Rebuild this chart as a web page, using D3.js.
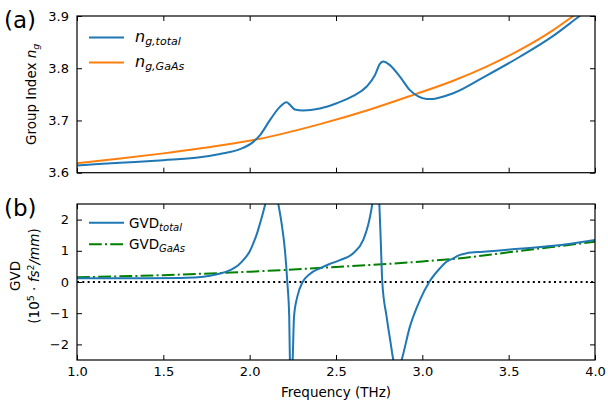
<!DOCTYPE html>
<html>
<head>
<meta charset="utf-8">
<script src="https://cdn.jsdelivr.net/npm/d3@7"></script>
<style>
  body { margin: 0; background: #fff; }
  svg text { font-family: "DejaVu Sans", sans-serif; fill: #000; }
</style>
</head>
<body>
<div id="chart-area"></div>
<script>
// group index, panel (a)
let ngFreq   = [1.0, 1.25, 1.5, 1.7, 1.828, 1.944, 2.021, 2.06, 2.118, 2.175, 2.214, 2.233, 2.262, 2.31, 2.407, 2.504, 2.6, 2.678, 2.726, 2.755, 2.774, 2.812, 2.87, 2.928, 2.976, 3.025, 3.06, 3.102, 3.179, 3.372, 3.565, 3.758, 3.903, 4.0];
let ngTotal  = [3.614, 3.619, 3.624, 3.629, 3.636, 3.645, 3.659, 3.672, 3.701, 3.726, 3.735, 3.730, 3.721, 3.719, 3.723, 3.733, 3.747, 3.765, 3.787, 3.809, 3.813, 3.806, 3.784, 3.758, 3.746, 3.741, 3.741, 3.744, 3.752, 3.786, 3.822, 3.862, 3.898, 3.922];
let gaasFreq = [1.0, 1.25, 1.5, 1.828, 2.06, 2.407, 2.697, 2.948, 3.179, 3.372, 3.565, 3.758, 3.874, 4.0];
let ngGaAs   = [3.618, 3.627, 3.637, 3.652, 3.665, 3.693, 3.721, 3.749, 3.776, 3.803, 3.835, 3.873, 3.900, 3.931];

// GVD, panel (b), in 1e5 fs^2/mm
let gvdFreq  = [1.0, 1.2, 1.4, 1.6, 1.7, 1.77, 1.83, 1.886, 1.93, 1.963, 2.0, 2.021, 2.045, 2.06, 2.089, 2.11, 2.13, 2.15, 2.166, 2.185, 2.204, 2.218, 2.229, 2.233, 2.241, 2.249, 2.257, 2.276, 2.307, 2.349, 2.407, 2.46, 2.523, 2.6, 2.658, 2.685, 2.697, 2.71, 2.725, 2.74, 2.751, 2.759, 2.768, 2.793, 2.815, 2.832, 2.855, 2.88, 2.928, 2.986, 3.04, 3.102, 3.14, 3.179, 3.218, 3.256, 3.353, 3.507, 3.758, 4.0];
let gvdTotal = [0.12, 0.12, 0.12, 0.13, 0.15, 0.2, 0.27, 0.38, 0.52, 0.70, 0.98, 1.24, 1.6, 1.88, 2.47, 3.0, 3.3, 3.0, 2.5, 1.88, 1.03, 0.0, -1.11, -2.5, -3.3, -2.5, -1.11, -0.47, 0.0, 0.26, 0.44, 0.57, 0.70, 0.92, 1.35, 1.8, 2.09, 2.5, 3.2, 3.2, 2.5, 1.35, 0.0, -1.11, -1.9, -2.5, -2.9, -2.5, -1.43, -0.58, 0.0, 0.44, 0.65, 0.76, 0.87, 0.92, 0.97, 1.04, 1.16, 1.35];
let gvdGaasFreq = [1.0, 1.5, 2.0, 2.5, 3.0, 3.25, 3.5, 3.75, 4.0];
let gvdGaAs  = [0.15, 0.22, 0.33, 0.48, 0.66, 0.78, 0.95, 1.12, 1.29];

let xTicks  = [1.0, 1.5, 2.0, 2.5, 3.0, 3.5, 4.0];
let yTicksA = [3.6, 3.7, 3.8, 3.9];
let yTicksB = [-2, -1, 0, 1, 2];

let W = 608, H = 406;
let left = 77, right = 595;
let panelA = { top: 16, bottom: 172.7 };
let panelB = { top: 204, bottom: 360 };

let svg = d3.select("#chart-area")
  .append("svg")
  .attr("width", W)
  .attr("height", H);

let x = d3.scaleLinear().domain([1, 4]).range([left, right]);
let yA = d3.scaleLinear().domain([3.6, 3.9]).range([panelA.bottom, panelA.top]);
let yB = d3.scaleLinear().domain([-2.5, 2.5]).range([panelB.bottom, panelB.top]);

let zip = (xs, ys) => xs.map((v, i) => [v, ys[i]]);

// clip areas
let defs = svg.append("defs");
defs.append("clipPath").attr("id", "clipA").append("rect")
  .attr("x", left).attr("y", panelA.top)
  .attr("width", right - left).attr("height", panelA.bottom - panelA.top);
defs.append("clipPath").attr("id", "clipB").append("rect")
  .attr("x", left).attr("y", panelB.top)
  .attr("width", right - left).attr("height", panelB.bottom - panelB.top);

function axes(y, yTicks, p, showX){
  let g = svg.append("g");

  let bottom = d3.axisBottom(x).tickValues(xTicks).tickSize(-5).tickPadding(7)
    .tickFormat(showX ? d3.format(".1f") : () => "");
  let top = d3.axisTop(x).tickValues(xTicks).tickSize(-5).tickFormat(() => "");
  let l = d3.axisLeft(y).tickValues(yTicks).tickSize(-5).tickPadding(8)
    .tickFormat(d => d3.format(y === yA ? ".1f" : "d")(d).replace("-", "\u2212"));
  let r = d3.axisRight(y).tickValues(yTicks).tickSize(-5).tickFormat(() => "");

  g.append("g").attr("transform", `translate(0,${p.bottom})`).call(bottom);
  g.append("g").attr("transform", `translate(0,${p.top})`).call(top);
  g.append("g").attr("transform", `translate(${left},0)`).call(l);
  g.append("g").attr("transform", `translate(${right},0)`).call(r);

  g.selectAll(".domain").remove();
  g.selectAll(".tick line").attr("stroke", "#000").attr("stroke-width", 1);
  g.selectAll(".tick text")
    .attr("font-family", "DejaVu Sans")
    .attr("font-size", 13)
    .attr("fill", "#222");

  svg.append("rect")
    .attr("x", left).attr("y", p.top)
    .attr("width", right - left).attr("height", p.bottom - p.top)
    .attr("fill", "none").attr("stroke", "#000").attr("stroke-width", 1.2);
}

// ---- panel (a)
let lineA = d3.line().x(d => x(d[0])).y(d => yA(d[1])).curve(d3.curveMonotoneX);
let gA = svg.append("g").attr("clip-path", "url(#clipA)");
gA.append("path").datum(zip(gaasFreq, ngGaAs))
  .attr("d", lineA).attr("fill", "none").attr("stroke", "#ff7f0e").attr("stroke-width", 2);
gA.append("path").datum(zip(ngFreq, ngTotal))
  .attr("d", lineA).attr("fill", "none").attr("stroke", "#1f77b4").attr("stroke-width", 2);
axes(yA, yTicksA, panelA, false);

// ---- panel (b)
let lineB = d3.line().x(d => x(d[0])).y(d => yB(d[1])).curve(d3.curveMonotoneX);
let gB = svg.append("g").attr("clip-path", "url(#clipB)");
gB.append("line")
  .attr("x1", left).attr("x2", right).attr("y1", yB(0)).attr("y2", yB(0))
  .attr("stroke", "#000").attr("stroke-width", 2).attr("stroke-dasharray", "2,3.3");
gB.append("path").datum(zip(gvdGaasFreq, gvdGaAs))
  .attr("d", lineB).attr("fill", "none").attr("stroke", "green").attr("stroke-width", 2)
  .attr("stroke-dasharray", "12.8,3.2,2,3.2");
gB.append("path").datum(zip(gvdFreq, gvdTotal))
  .attr("d", lineB).attr("fill", "none").attr("stroke", "#1f77b4").attr("stroke-width", 2);
axes(yB, yTicksB, panelB, true);

// panel letters
svg.append("text").attr("x", 4).attr("y", 28).attr("font-size", 23).text("(a)");
svg.append("text").attr("x", 4).attr("y", 216).attr("font-size", 23).text("(b)");

// axis labels
svg.append("text")
  .attr("x", (left + right) / 2).attr("y", 397)
  .attr("text-anchor", "middle").attr("font-size", 13.5)
  .text("Frequency (THz)");

let labA = svg.append("text")
  .attr("transform", `translate(36,${(panelA.top + panelA.bottom) / 2}) rotate(-90)`)
  .attr("text-anchor", "middle").attr("font-size", 13.5);
labA.append("tspan").text("Group Index ");
labA.append("tspan").attr("font-style", "italic").text("n");
labA.append("tspan").attr("font-style", "italic").attr("font-size", 9.5).attr("dy", 3).text("g");

let midB = (panelB.top + panelB.bottom) / 2 - 6;
svg.append("text")
  .attr("transform", `translate(20,${midB}) rotate(-90)`)
  .attr("text-anchor", "middle").attr("font-size", 13.5)
  .text("GVD");
let labB = svg.append("text")
  .attr("transform", `translate(39,${midB}) rotate(-90)`)
  .attr("text-anchor", "middle").attr("font-size", 13.5);
labB.append("tspan").text("(10");
labB.append("tspan").attr("font-size", 9.5).attr("dy", -5).text("5");
labB.append("tspan").attr("dy", 5).text(" \u00b7 ");
labB.append("tspan").attr("font-style", "italic").text("fs");
labB.append("tspan").attr("font-size", 9.5).attr("dy", -5).text("2");
labB.append("tspan").attr("font-style", "italic").attr("dy", 5).text("/mm");
labB.append("tspan").text(")");

// legends
function legendRow(y, color, dash){
  svg.append("line")
    .attr("x1", 89).attr("x2", 124).attr("y1", y).attr("y2", y)
    .attr("stroke", color).attr("stroke-width", 2)
    .attr("stroke-dasharray", dash || null);
}
legendRow(37.5, "#1f77b4");
legendRow(62.5, "#ff7f0e");
let t1 = svg.append("text").attr("x", 135).attr("y", 42).attr("font-size", 16).attr("font-style", "italic");
t1.append("tspan").text("n");
t1.append("tspan").attr("font-size", 11).attr("dy", 3).text("g,total");
let t2 = svg.append("text").attr("x", 135).attr("y", 67).attr("font-size", 16).attr("font-style", "italic");
t2.append("tspan").text("n");
t2.append("tspan").attr("font-size", 11).attr("dy", 3).text("g,GaAs");

legendRow(222.7, "#1f77b4");
legendRow(244.3, "green", "12.8,3.2,2,3.2");
let t3 = svg.append("text").attr("x", 129).attr("y", 227.5).attr("font-size", 13.5);
t3.append("tspan").text("GVD");
t3.append("tspan").attr("font-size", 10).attr("font-style", "italic").attr("dy", 3).text("total");
let t4 = svg.append("text").attr("x", 129).attr("y", 249).attr("font-size", 13.5);
t4.append("tspan").text("GVD");
t4.append("tspan").attr("font-size", 10).attr("font-style", "italic").attr("dy", 3).text("GaAs");
</script>
</body>
</html>
